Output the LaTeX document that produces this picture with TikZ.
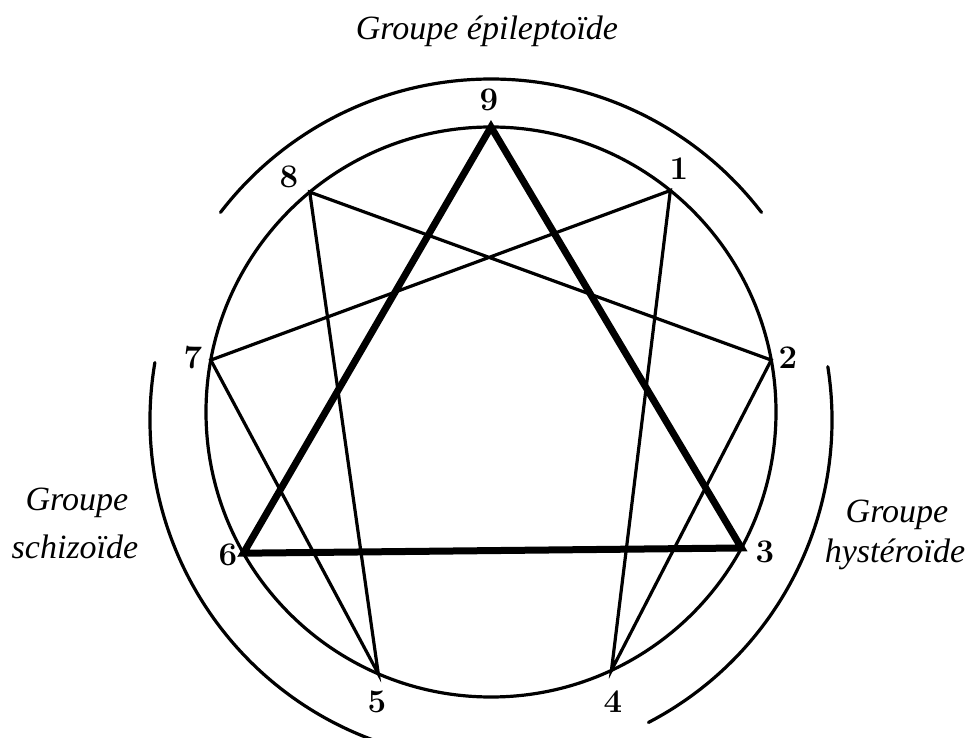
\documentclass[tikz,border=0pt]{standalone}
\usepackage{fontspec}
\newfontfamily\grpfont{Liberation Serif}
\usetikzlibrary{calc}
\begin{document}
\begin{tikzpicture}[x=1pt,y=1pt,
  thinline/.style={line width=3.2pt,line cap=round},
  thickline/.style={line width=7pt,line join=miter},
  numlabel/.style={font=\fontsize{33}{33}\selectfont\bfseries,inner sep=0pt},
  grouplabel/.style={font=\fontsize{34}{34}\selectfont\grpfont\itshape,inner sep=0pt,anchor=base}]
\useasboundingbox (0,0) rectangle (969,737);
\clip (0,0) rectangle (969,737);
\fill[white] (0,0) rectangle (969,737);
\coordinate (c) at (491,325);
\coordinate (a) at (491,317);
% circle
\draw[thinline] (c) circle[radius=285];
% points
\coordinate (p9) at ($(c)+(90:285)$);
\coordinate (p1) at ($(c)+(51:285)$);
\coordinate (p2) at ($(c)+(10.5:285)$);
\coordinate (p3) at ($(c)+(-28.5:285)$);
\coordinate (p4) at ($(c)+(-65:285)$);
\coordinate (p5) at ($(c)+(-113.3:285)$);
\coordinate (p6) at ($(c)+(-150.3:285)$);
\coordinate (p7) at ($(c)+(169.5:285)$);
\coordinate (p8) at ($(c)+(129.5:285)$);
% hexad
\draw[thinline,line join=miter] (p1) -- (p4) -- (p2) -- (p8) -- (p5) -- (p7) -- cycle;
% triangle
\draw[thickline] (p9) -- (p3) -- (p6) -- cycle;
% outer arcs
\draw[thinline] ($(a)+(37.5:341)$) arc[start angle=37.5,end angle=142.5,radius=341];
\draw[thinline] ($(a)+(170.3:341)$) arc[start angle=170.3,end angle=252,radius=341];
\draw[thinline] ($(a)+(9:341)$) arc[start angle=9,end angle=-62.5,radius=341];
% number labels
\node[numlabel] (n9) at (489,637) {9};
\node[numlabel] (n1) at (679,568) {1};
\node[numlabel] (n2) at (788,379) {2};
\node[numlabel] (n3) at (765,185) {3};
\node[numlabel] (n4) at (613,35) {4};
\node[numlabel] (n5) at (377,35) {5};
\node[numlabel] (n6) at (228,182) {6};
\node[numlabel] (n7) at (193,379) {7};
\node[numlabel] (n8) at (289,560) {8};
% group labels
\node[grouplabel] (gtop) at (487,697) {Groupe épileptoïde};
\node[grouplabel] (gl1) at (77,227) {Groupe};
\node[grouplabel] (gl2) at (75,179) {schizoïde};
\node[grouplabel] (gr1) at (897,215) {Groupe};
\node[grouplabel] (gr2) at (895,175) {hystéroïde};
\end{tikzpicture}
\end{document}
